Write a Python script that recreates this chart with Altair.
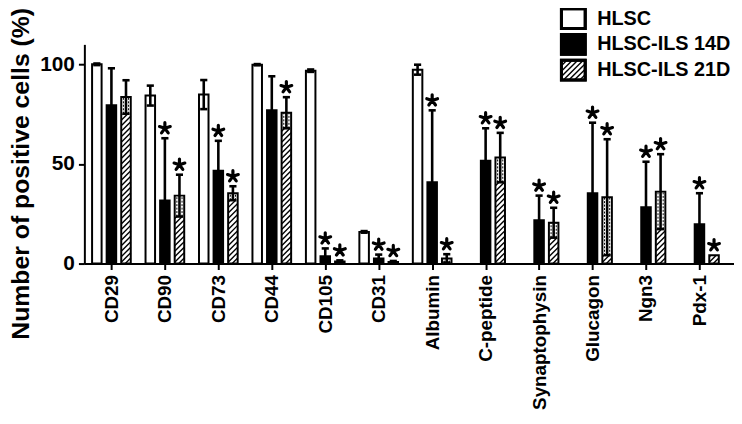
import altair as alt
import pandas as pd

# ---------------- data ----------------
categories = ["CD29", "CD90", "CD73", "CD44", "CD105", "CD31", "Albumin",
              "C-peptide", "Synaptophysin", "Glucagon", "Ngn3", "Pdx-1"]
groups = ["HLSC", "HLSC-ILS 14D", "HLSC-ILS 21D"]

hlsc = [100.0, 84.3, 84.8, 99.8, 96.8, 15.9, 97.3, 0, 0, 0, 0, 0]
hlsc_err = [0.4, 5.0, 7.3, 0.3, 0.6, 0.4, 2.5, 0, 0, 0, 0, 0]
d14 = [79.5, 31.7, 46.6, 76.9, 3.7, 2.5, 40.8, 51.6, 21.7, 35.3, 28.3, 19.7]
d14_err = [18.5, 31.2, 15.0, 17.1, 3.9, 2.0, 36.1, 16.3, 12.4, 35.4, 22.8, 15.6]
d21 = [83.6, 34.1, 35.3, 75.7, 1.0, 0.8, 2.6, 53.2, 20.5, 33.3, 36.1, 4.2]
d21_err = [8.4, 10.5, 3.5, 7.8, 0.6, 0.5, 2.1, 12.4, 7.5, 29.1, 18.8, 0]
stars14 = [0, 1, 1, 0, 1, 1, 1, 1, 1, 1, 1, 1]
stars21 = [0, 1, 1, 1, 1, 1, 1, 1, 1, 1, 1, 1]

y_ticks = [0, 50, 100]

# ---------------- layout constants ----------------
FONT = "Liberation Sans"
PLOT_W, PLOT_H = 655, 221
PX_X = 53.9                      # pixels per category step
X_MIN = -0.506
X_MAX = X_MIN + PLOT_W / PX_X
Y_MAX = 110
PX_Y = PLOT_H / Y_MAX
GROUP_OFF = [-14.7, 0.0, 14.7]   # px offset of each series in a group
BAR_HALF = 4.8                   # px
CAP_HALF = 3.6                   # px
HATCH_STEP = 5.5                 # px
LADDER_OFF = 2.6                 # px

# five-armed asterisk (significance marker)
STAR_PATH = ("M0,0L0,-1M0,0L0.951,-0.309M0,0L0.588,0.809"
             "M0,0L-0.588,0.809M0,0L-0.951,-0.309")

values = [hlsc, d14, d21]
errors = [hlsc_err, d14_err, d21_err]
star_flags = [[0] * len(categories), stars14, stars21]


def hatch_lines(width, height):
    """'/' hatch segments in a width x height box, (u, h) with h measured upward."""
    segs = []
    c = -width
    while c < height:
        us = max(0.0, -c)
        ue = min(width, height - c)
        if ue > us:
            segs.append((us, us + c, ue, ue + c))
        c += HATCH_STEP
    return segs


bar_rows, err_rows, cap_rows, hatch_rows, ladder_rows, star_rows = [], [], [], [], [], []
for gi, g in enumerate(groups):
    for ci, c in enumerate(categories):
        v = values[gi][ci]
        e = errors[gi][ci]
        if v <= 0:
            continue
        cx = ci + GROUP_OFF[gi] / PX_X
        bar_rows.append(dict(cat=c, group=g, x1=cx - BAR_HALF / PX_X,
                             x2=cx + BAR_HALF / PX_X, y0=0.0, v=v))
        lo = max(v - e, 0.0)
        hi = v + e
        if e > 0:
            err_rows.append(dict(x=cx, lo=lo, hi=hi))
            cap_rows.append(dict(xa=cx - CAP_HALF / PX_X, xb=cx + CAP_HALF / PX_X, y=hi))
            if lo > 0:
                cap_rows.append(dict(xa=cx - CAP_HALF / PX_X, xb=cx + CAP_HALF / PX_X, y=lo))
        if gi == 2:
            top = lo if e > 0 else v
            left = cx - BAR_HALF / PX_X
            for (u1, h1, u2, h2) in hatch_lines(2 * BAR_HALF, top * PX_Y):
                hatch_rows.append(dict(xa=left + u1 / PX_X, ya=h1 / PX_Y,
                                       xb=left + u2 / PX_X, yb=h2 / PX_Y))
            if e > 0:
                for s in (-1, 1):
                    ladder_rows.append(dict(x=cx + s * LADDER_OFF / PX_X, lo=lo, hi=v))
        if star_flags[gi][ci]:
            star_rows.append(dict(x=cx, y=hi))

bars_df = pd.DataFrame(bar_rows)
err_df = pd.DataFrame(err_rows)
cap_df = pd.DataFrame(cap_rows)
hatch_df = pd.DataFrame(hatch_rows)
ladder_df = pd.DataFrame(ladder_rows)
star_df = pd.DataFrame(star_rows)

xscale = alt.Scale(domain=[X_MIN, X_MAX], nice=False, zero=False)
yscale = alt.Scale(domain=[0, Y_MAX], nice=False, zero=False)
fill_scale = alt.Scale(domain=groups, range=["white", "black", "white"])

label_expr = "[" + ",".join("'%s'" % c for c in categories) + "][datum.value]"

x_axis = alt.Axis(values=list(range(len(categories))), labelExpr=label_expr,
                  labelAngle=-90, labelFontSize=19, labelFont=FONT, labelFontWeight="bold",
                  labelPadding=5, tickSize=6, labelOverlap=False, labelFlush=False,
                  title="")
y_axis = alt.Axis(values=y_ticks, labelFontSize=21, labelFont=FONT, labelFontWeight="bold",
                  tickSize=6, labelPadding=4,
                  title="Number of positive cells (%)", titleFont=FONT, titleFontSize=25,
                  titleFontWeight="bold", titleX=-76, titleY=130, titleBaseline="top",
                  titleAlign="center", titleAngle=270)

bars = alt.Chart(bars_df).mark_rect(stroke="black", strokeWidth=2).encode(
    x=alt.X("x1:Q", scale=xscale, axis=x_axis),
    x2="x2:Q",
    y=alt.Y("y0:Q", scale=yscale, axis=y_axis),
    y2="v:Q",
    fill=alt.Fill("group:N", scale=fill_scale, legend=None),
)

hatch = alt.Chart(hatch_df).mark_rule(color="black", strokeWidth=1.4).encode(
    x=alt.X("xa:Q", scale=xscale, axis=None), x2="xb:Q",
    y=alt.Y("ya:Q", scale=yscale, axis=None), y2="yb:Q",
)

ladder = alt.Chart(ladder_df).mark_rule(color="black", strokeWidth=1, strokeDash=[2, 1.5]).encode(
    x=alt.X("x:Q", scale=xscale, axis=None),
    y=alt.Y("lo:Q", scale=yscale, axis=None), y2="hi:Q",
)

errbar = alt.Chart(err_df).mark_rule(color="black", strokeWidth=2.6).encode(
    x=alt.X("x:Q", scale=xscale, axis=None),
    y=alt.Y("lo:Q", scale=yscale, axis=None), y2="hi:Q",
)

caps = alt.Chart(cap_df).mark_rule(color="black", strokeWidth=2.6).encode(
    x=alt.X("xa:Q", scale=xscale, axis=None), x2="xb:Q",
    y=alt.Y("y:Q", scale=yscale, axis=None),
)

stars = alt.Chart(star_df).mark_point(shape=STAR_PATH, filled=False, size=130,
                                      strokeWidth=3.2, strokeCap="round",
                                      opacity=1, yOffset=-10).encode(
    x=alt.X("x:Q", scale=xscale, axis=None),
    y=alt.Y("y:Q", scale=yscale, axis=None),
    stroke=alt.value("black"),
)

# ---------------- legend (pixel space) ----------------
LEG_X0, LEG_W, LEG_H = 481, 24, 20
leg_rows_y = [-26, 0, 26]
leg_box = pd.DataFrame([dict(group=g, xa=LEG_X0, xb=LEG_X0 + LEG_W,
                             ya=yc - LEG_H / 2, yb=yc + LEG_H / 2)
                        for g, yc in zip(groups, leg_rows_y)])
leg_text = pd.DataFrame([dict(group=g, x=LEG_X0 + 36, y=yc) for g, yc in zip(groups, leg_rows_y)])
leg_hatch = pd.DataFrame([
    dict(xa=LEG_X0 + u1, ya=leg_rows_y[2] + LEG_H / 2 - h1,
         xb=LEG_X0 + u2, yb=leg_rows_y[2] + LEG_H / 2 - h2)
    for (u1, h1, u2, h2) in hatch_lines(LEG_W, LEG_H)
])

legend_boxes = alt.Chart(leg_box).mark_rect(stroke="black", strokeWidth=3).encode(
    x=alt.X("xa:Q", scale=None), x2="xb:Q",
    y=alt.Y("ya:Q", scale=None), y2="yb:Q",
    fill=alt.Fill("group:N", scale=fill_scale, legend=None),
)
legend_hatch = alt.Chart(leg_hatch).mark_rule(color="black", strokeWidth=1.4).encode(
    x=alt.X("xa:Q", scale=None), x2="xb:Q",
    y=alt.Y("ya:Q", scale=None), y2="yb:Q",
)
legend_outline = alt.Chart(leg_box).mark_rect(stroke="black", strokeWidth=3, fillOpacity=0).encode(
    x=alt.X("xa:Q", scale=None), x2="xb:Q",
    y=alt.Y("ya:Q", scale=None), y2="yb:Q",
)
legend_text = alt.Chart(leg_text).mark_text(font=FONT, fontWeight="bold", fontSize=20,
                                            align="left", baseline="middle",
                                            fill="black").encode(
    x=alt.X("x:Q", scale=None), y=alt.Y("y:Q", scale=None), text="group:N",
    color=alt.value("black"),
)

chart = alt.layer(
    bars, hatch, ladder, errbar, caps, stars,
    legend_boxes, legend_hatch, legend_outline, legend_text,
).resolve_scale(
    x="independent", y="independent"
).properties(
    width=PLOT_W, height=PLOT_H,
    autosize=alt.AutoSizeParams(type="none"),
    padding={"left": 77, "top": 35, "right": 0, "bottom": 150},
).configure_view(stroke=None).configure_axis(
    domainColor="black", domainWidth=2, tickColor="black", tickWidth=2,
    labelColor="black", titleColor="black", grid=False,
)

chart.save("out.html", embed_options={"renderer": "svg", "actions": False})
